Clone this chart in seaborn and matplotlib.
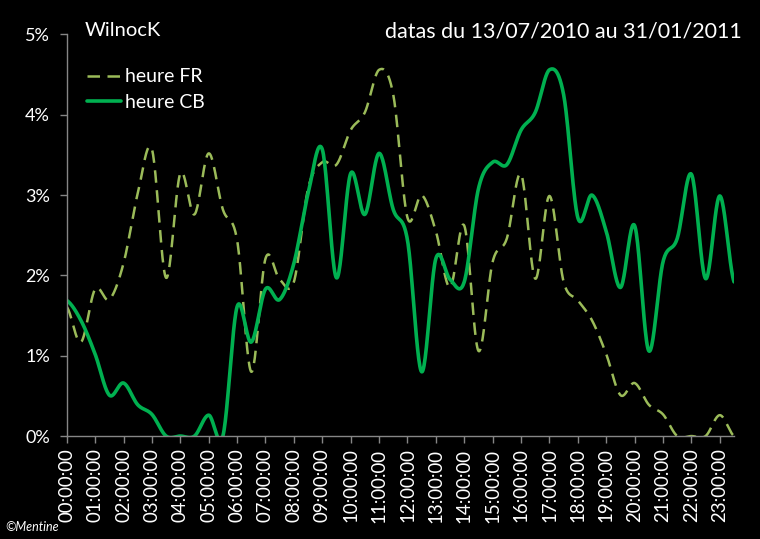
import numpy as np
import pandas as pd
import seaborn as sns
import matplotlib.pyplot as plt

# ---------- donnees (en %, pas de 30 min) ----------
heure_cb = [1.69, 1.44, 1.02, 0.51, 0.66, 0.39, 0.27, 0.00, 0.00, 0.00, 0.26, 0.00,
            1.61, 1.17, 1.83, 1.70, 2.15, 3.02, 3.57, 1.97, 3.27, 2.76, 3.52, 2.82,
            2.44, 0.80, 2.21, 1.95, 1.92, 3.08, 3.41, 3.38, 3.81, 4.03, 4.56, 4.25,
            2.72, 3.00, 2.55, 1.85, 2.62, 1.06, 2.17, 2.46, 3.26, 1.96, 2.99, 1.92]

heure_fr = [1.61, 1.17, 1.83, 1.70, 2.15, 3.02, 3.57, 1.97, 3.27, 2.76, 3.52, 2.82,
            2.44, 0.80, 2.21, 1.95, 1.92, 3.08, 3.41, 3.38, 3.81, 4.03, 4.56, 4.25,
            2.72, 3.00, 2.55, 1.85, 2.62, 1.06, 2.17, 2.46, 3.26, 1.96, 2.99, 1.92,
            1.69, 1.44, 1.02, 0.51, 0.66, 0.39, 0.27, 0.00, 0.00, 0.00, 0.26, 0.00]

labels_heures = ["00:00:00", "01:00:00", "02:00:00", "03:00:00", "04:00:00", "05:00:00",
                 "06:00:00", "07:00:00", "08:00:00", "09:00:00", "10:00:00", "11:00:00",
                 "12:00:00", "13:00:00", "14:00:00", "15:00:00", "16:00:00", "17:00:00",
                 "18:00:00", "19:00:00", "20:00:00", "21:00:00", "22:00:00", "23:00:00"]

vert_cb = "#00B050"
vert_fr = "#9BBB59"


# lissage type "courbe lissee" d'Excel (Catmull-Rom)
def lisser(valeurs, n=24):
    y = np.asarray(valeurs, float)
    p = np.concatenate([[y[0]], y, [y[-1]]])
    t = np.linspace(0, 1, n, endpoint=False)
    xs, ys = [], []
    for k in range(len(y) - 1):
        p0, p1, p2, p3 = p[k], p[k + 1], p[k + 2], p[k + 3]
        seg = 0.5 * (2 * p1 + (p2 - p0) * t + (2 * p0 - 5 * p1 + 4 * p2 - p3) * t ** 2
                     + (-p0 + 3 * p1 - 3 * p2 + p3) * t ** 3)
        xs.append(k + t)
        ys.append(seg)
    xs.append([len(y) - 1])
    ys.append([y[-1]])
    return np.concatenate(xs), np.concatenate(ys)


x_fr, y_fr = lisser(heure_fr)
x_cb, y_cb = lisser(heure_cb)
df_fr = pd.DataFrame({"pos": x_fr, "val": y_fr})
df_cb = pd.DataFrame({"pos": x_cb, "val": y_cb})

sns.set_style("dark")
plt.rcParams["font.family"] = ["Lato", "DejaVu Sans"]

fig = plt.figure(figsize=(7.6, 5.39), dpi=100, facecolor="black")
ax = fig.add_axes([0.0878, 0.191, 0.878, 0.745])
ax.set_facecolor("black")

sns.lineplot(data=df_fr, x="pos", y="val", ax=ax, color=vert_fr, linewidth=1.8,
             label="heure FR", dashes=False, estimator=None, sort=False)
ax.lines[-1].set_dashes([5, 3])
sns.lineplot(data=df_cb, x="pos", y="val", ax=ax, color=vert_cb, linewidth=2.6,
             label="heure CB", estimator=None, sort=False)

ax.set_xlim(0, len(heure_cb) - 1)
ax.set_ylim(0, 5)
ax.set_xticks(np.arange(0, len(heure_cb), 2))
ax.set_xticklabels(labels_heures, rotation=90, color="white", fontsize=13.4)
ax.set_yticks([0, 1, 2, 3, 4, 5])
ax.set_yticklabels(["0%", "1%", "2%", "3%", "4%", "5%"], color="white", fontsize=13)
ax.set_xlabel("")
ax.set_ylabel("")
ax.grid(False)

for s in ["top", "right"]:
    ax.spines[s].set_visible(False)
for s in ["left", "bottom"]:
    ax.spines[s].set_visible(True)
    ax.spines[s].set_color("#868686")
    ax.spines[s].set_linewidth(1)
ax.tick_params(axis="both", which="major", direction="out", length=5, width=1,
               color="#868686", bottom=True, left=True)
ax.tick_params(axis="x", pad=4)
ax.tick_params(axis="y", pad=7)

leg = ax.legend(loc="upper left", bbox_to_anchor=(0.018, 0.935), frameon=False,
                fontsize=14, handlelength=1.75, handletextpad=0.22, labelspacing=0.45,
                borderaxespad=0)
for txt in leg.get_texts():
    txt.set_color("white")

fig.text(85 / 760, 1 - 31 / 539, "WilnocK", color="white", fontsize=14.5, va="center")
fig.text(742 / 760, 1 - 31 / 539, "datas du 13/07/2010 au 31/01/2011", color="white",
         fontsize=15.5, va="center", ha="right")
fig.text(5 / 760, 1 - 527 / 539, "©Mentine", color="white", fontsize=9,
         style="italic", va="center")

fig.savefig("out.png", dpi=100, facecolor="black")
